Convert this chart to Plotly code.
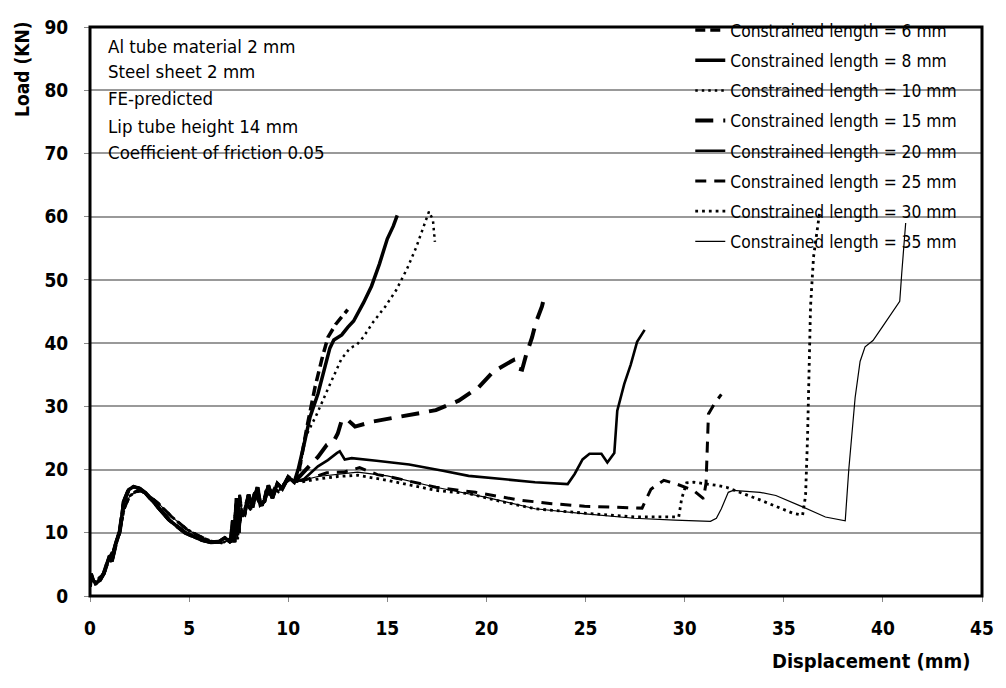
import plotly.graph_objects as go

# ---------------- data ----------------
prefix_a_x = [0, 0.05, 0.15, 0.3, 0.5, 0.7, 0.95, 1.1, 1.3, 1.5, 1.7, 1.95, 2.2, 2.5, 2.8, 3.3, 4.0, 4.8,
              5.6, 6.1, 6.5, 6.8, 7.1, 7.2, 7.3, 7.4, 7.5, 7.6, 7.8, 8.0, 8.2, 8.45, 8.6, 8.8, 9.0, 9.2,
              9.45, 9.7, 10.0, 10.3]
prefix_a_y = [1.5, 3.5, 2.5, 2.0, 2.5, 3.6, 6.0, 5.5, 8.2, 10.2, 14.9, 16.8, 17.3, 17.0, 16.3, 14.5, 12.0, 10.0,
              8.9, 8.5, 8.6, 9.2, 8.5, 12.0, 8.5, 15.5, 10.0, 13.5, 13.0, 16.0, 14.0, 17.2, 14.5, 15.0, 17.5, 15.5,
              17.8, 17.0, 18.8, 18.0]
prefix_b_x = [0, 0.1, 0.25, 0.45, 0.7, 0.9, 1.2, 1.5, 1.75, 2.0, 2.3, 2.6, 2.9, 3.4, 4.1, 4.9, 5.7, 6.2, 6.7,
              7.0, 7.25, 7.35, 7.45, 7.55, 7.7, 7.9, 8.1, 8.3, 8.5, 8.7, 8.9, 9.1, 9.3, 9.5, 9.8, 10.1, 10.4]
prefix_b_y = [2.0, 3.0, 2.0, 2.8, 3.5, 5.5, 7.5, 10.5, 14.0, 15.8, 16.5, 16.6, 16.0, 14.8, 12.6, 10.5, 9.2, 8.6, 8.4,
              8.9, 9.5, 14.5, 9.0, 16.0, 12.5, 15.0, 13.5, 16.5, 15.0, 14.3, 16.8, 15.8, 17.0, 16.5, 17.8, 18.5, 18.2]

l6_x = [10.5, 10.95, 11.35, 11.7, 12.0, 12.4, 12.85, 13.0]
l6_y = [19.0, 26.8, 33.0, 37.5, 40.9, 43.0, 44.8, 45.3]

l8_x = [10.5, 10.8, 11.1, 11.5, 11.8, 12.1, 12.3, 12.7, 13.0, 13.3, 13.8, 14.2, 14.6, 15.0, 15.3, 15.5]
l8_y = [20.0, 24.0, 28.3, 32.0, 35.5, 39.2, 40.5, 41.3, 42.5, 43.5, 46.4, 49.0, 52.5, 56.5, 58.5, 60.2]

l10_x = [10.6, 10.8, 11.45, 11.95, 12.4, 12.7, 12.9, 13.1, 13.45, 13.8, 14.28, 14.9, 15.45, 16.0, 16.45, 16.8,
         17.1, 17.3, 17.35, 17.4]
l10_y = [20.0, 24.7, 28.8, 32.4, 35.5, 37.6, 38.3, 39.2, 39.7, 41.0, 43.3, 45.8, 48.4, 51.8, 55.1, 58.0,
         60.8, 59.5, 57.0, 56.0]

l15_x = [10.6, 11.0, 11.5, 11.95, 12.3, 12.5, 12.7, 12.95, 13.37, 14.28, 15.6, 16.95, 17.45, 18.6, 19.6, 20.35,
         21.0, 21.35, 21.45, 21.8, 22.0, 22.3, 22.5, 22.8, 22.95]
l15_y = [19.0, 20.3, 22.0, 23.9, 24.5, 25.7, 27.8, 28.0, 26.8, 27.6, 28.3, 29.1, 29.4, 30.9, 33.0, 35.5,
         36.6, 37.3, 36.1, 35.8, 38.1, 40.9, 43.3, 45.8, 47.7]

l20_x = [10.8, 11.5, 12.0, 12.45, 12.6, 12.85, 13.2, 14.45, 16.1, 17.8, 19.1, 20.8, 22.45, 24.1, 24.45, 24.85,
         25.2, 25.8, 26.1, 26.45, 26.6, 26.95, 27.28, 27.6, 27.98]
l20_y = [18.5, 20.5, 21.5, 22.6, 22.9, 21.6, 21.8, 21.4, 20.8, 19.8, 19.0, 18.5, 18.0, 17.7, 19.3, 21.6,
         22.5, 22.5, 21.1, 22.6, 29.3, 33.5, 36.6, 40.2, 42.1]

l25_x = [10.8, 11.95, 12.8, 13.6, 14.5, 15.5, 17.45, 19.45, 21.6, 23.3, 24.95, 27.85, 28.3, 28.95, 29.6, 30.45,
         30.95, 31.08, 31.15, 31.2, 31.5, 31.85]
l25_y = [18.3, 19.5, 19.6, 20.3, 19.2, 18.6, 17.2, 16.4, 15.2, 14.6, 14.2, 13.9, 16.9, 18.3, 17.7, 16.7,
         15.4, 17.9, 24.7, 28.8, 30.4, 31.9]

l30_x = [10.6, 11.5, 12.5, 13.5, 15.0, 17.45, 19.1, 20.8, 22.45, 24.95, 27.45, 29.7, 29.85, 30.1, 30.45, 31.6,
         32.1, 33.8, 35.45, 35.95, 36.1, 36.2, 36.28, 36.35, 36.5, 36.7, 36.8]
l30_y = [18.0, 18.5, 18.9, 19.1, 18.3, 16.7, 16.2, 14.9, 13.8, 13.1, 12.5, 12.5, 15.4, 17.9, 18.0, 17.5,
         17.2, 15.2, 13.1, 12.8, 15.9, 25.2, 35.5, 45.8, 53.6, 58.2, 60.5]

l35_x = [10.6, 11.5, 12.5, 13.5, 15.0, 17.45, 20.0, 22.45, 25.0, 27.45, 29.5, 31.3, 31.6, 31.85, 32.2, 32.45,
         33.8, 34.6, 35.95, 37.1, 38.1, 38.28, 38.6, 38.85, 39.1, 39.5, 40.0, 40.45, 40.85, 40.95, 41.1, 41.15]
l35_y = [18.2, 18.9, 19.3, 19.6, 19.0, 17.2, 15.6, 13.8, 13.0, 12.3, 12.0, 11.8, 12.3, 13.8, 16.4, 16.7,
         16.4, 15.9, 14.1, 12.5, 11.9, 20.0, 31.4, 37.1, 39.4, 40.4, 42.7, 44.8, 46.6, 51.0, 58.2, 59.0]

names = ["Constrained length = 6 mm", "Constrained length = 8 mm", "Constrained length = 10 mm",
         "Constrained length = 15 mm", "Constrained length = 20 mm", "Constrained length = 25 mm",
         "Constrained length = 30 mm", "Constrained length = 35 mm"]

x_ticks = [0, 5, 10, 15, 20, 25, 30, 35, 40, 45]
y_ticks = [0, 10, 20, 30, 40, 50, 60, 70, 80, 90]

notes = ["Al tube material 2 mm", "Steel sheet 2 mm", "FE-predicted", "Lip tube height 14 mm",
         "Coefficient of friction 0.05"]

# ---------------- styling ----------------
W, H = 1006, 688
L, R, T, B = 90, 14, 15, 92
FONT = "Liberation Sans Narrow, Arial Narrow, DejaVu Sans Condensed, sans-serif"

series = [
    (prefix_a_x + l6_x, prefix_a_y + l6_y, dict(width=3.5, dash="10px,5px")),
    (prefix_a_x + l8_x, prefix_a_y + l8_y, dict(width=3.5, dash="solid")),
    (prefix_b_x + l10_x, prefix_b_y + l10_y, dict(width=2.5, dash="2.5px,4px")),
    (prefix_a_x + l15_x, prefix_a_y + l15_y, dict(width=4, dash="18px,10px")),
    (prefix_a_x + l20_x, prefix_a_y + l20_y, dict(width=2.6, dash="solid")),
    (prefix_b_x + l25_x, prefix_b_y + l25_y, dict(width=3, dash="11px,8px")),
    (prefix_b_x + l30_x, prefix_b_y + l30_y, dict(width=2.8, dash="2.8px,4px")),
    (prefix_b_x + l35_x, prefix_b_y + l35_y, dict(width=1.2, dash="solid")),
]

fig = go.Figure()
for i, (xs, ys, ln) in enumerate(series):
    fig.add_trace(go.Scatter(x=xs, y=ys, mode="lines", name=names[i], legendgroup=f"g{i}",
                             line=dict(color="black", **ln)))

def px_to_paper_x(px):
    return (px - L) / (W - L - R)

def px_to_paper_y(py):
    return 1 - (py - T) / (H - T - B)

annotations = []
note_y = [35, 60, 88, 117, 143]
for txt, py in zip(notes, note_y):
    annotations.append(dict(text=txt, xref="paper", yref="paper", x=px_to_paper_x(106), y=px_to_paper_y(py),
                            xanchor="left", yanchor="middle", showarrow=False,
                            font=dict(family=FONT, size=18.5, color="black")))
annotations.append(dict(text="<b>Load (KN)</b>", xref="paper", yref="paper", x=px_to_paper_x(21),
                        y=px_to_paper_y(58), textangle=-90, xanchor="center", yanchor="middle",
                        showarrow=False, font=dict(family=FONT, size=19, color="black")))
annotations.append(dict(text="<b>Displacement (mm)</b>", xref="paper", yref="paper", x=px_to_paper_x(880),
                        y=px_to_paper_y(662), xanchor="center", yanchor="middle",
                        showarrow=False, font=dict(family=FONT, size=20, color="black")))

axis_common = dict(showline=False, ticks="outside", ticklen=5, tickcolor="#888", zeroline=False,
                   tickfont=dict(family=FONT, size=19, color="black"))

fig.update_layout(
    width=W, height=H, margin=dict(l=L, r=R, t=T, b=B),
    paper_bgcolor="white", plot_bgcolor="white",
    showlegend=True,
    legend=dict(x=px_to_paper_x(697), y=px_to_paper_y(0), xanchor="left", yanchor="top",
                bgcolor="rgba(0,0,0,0)", tracegroupgap=4.7,
                font=dict(family=FONT, size=17.3, color="black")),
    annotations=annotations,
    shapes=[dict(type="rect", xref="paper", yref="paper", x0=0, x1=1, y0=0, y1=1,
                 line=dict(color="black", width=3), layer="above")],
    xaxis=dict(range=[0, 45], tickvals=x_ticks, ticktext=[f"<b>{v}</b>" for v in x_ticks],
               showgrid=False, ticklabelstandoff=10, **axis_common),
    yaxis=dict(range=[0, 90], tickvals=y_ticks, ticktext=[f"<b>{v}</b>" for v in y_ticks],
               showgrid=True, gridcolor="#999", gridwidth=1.5, ticklabelstandoff=12, **axis_common),
)

fig.write_html("out.html")
